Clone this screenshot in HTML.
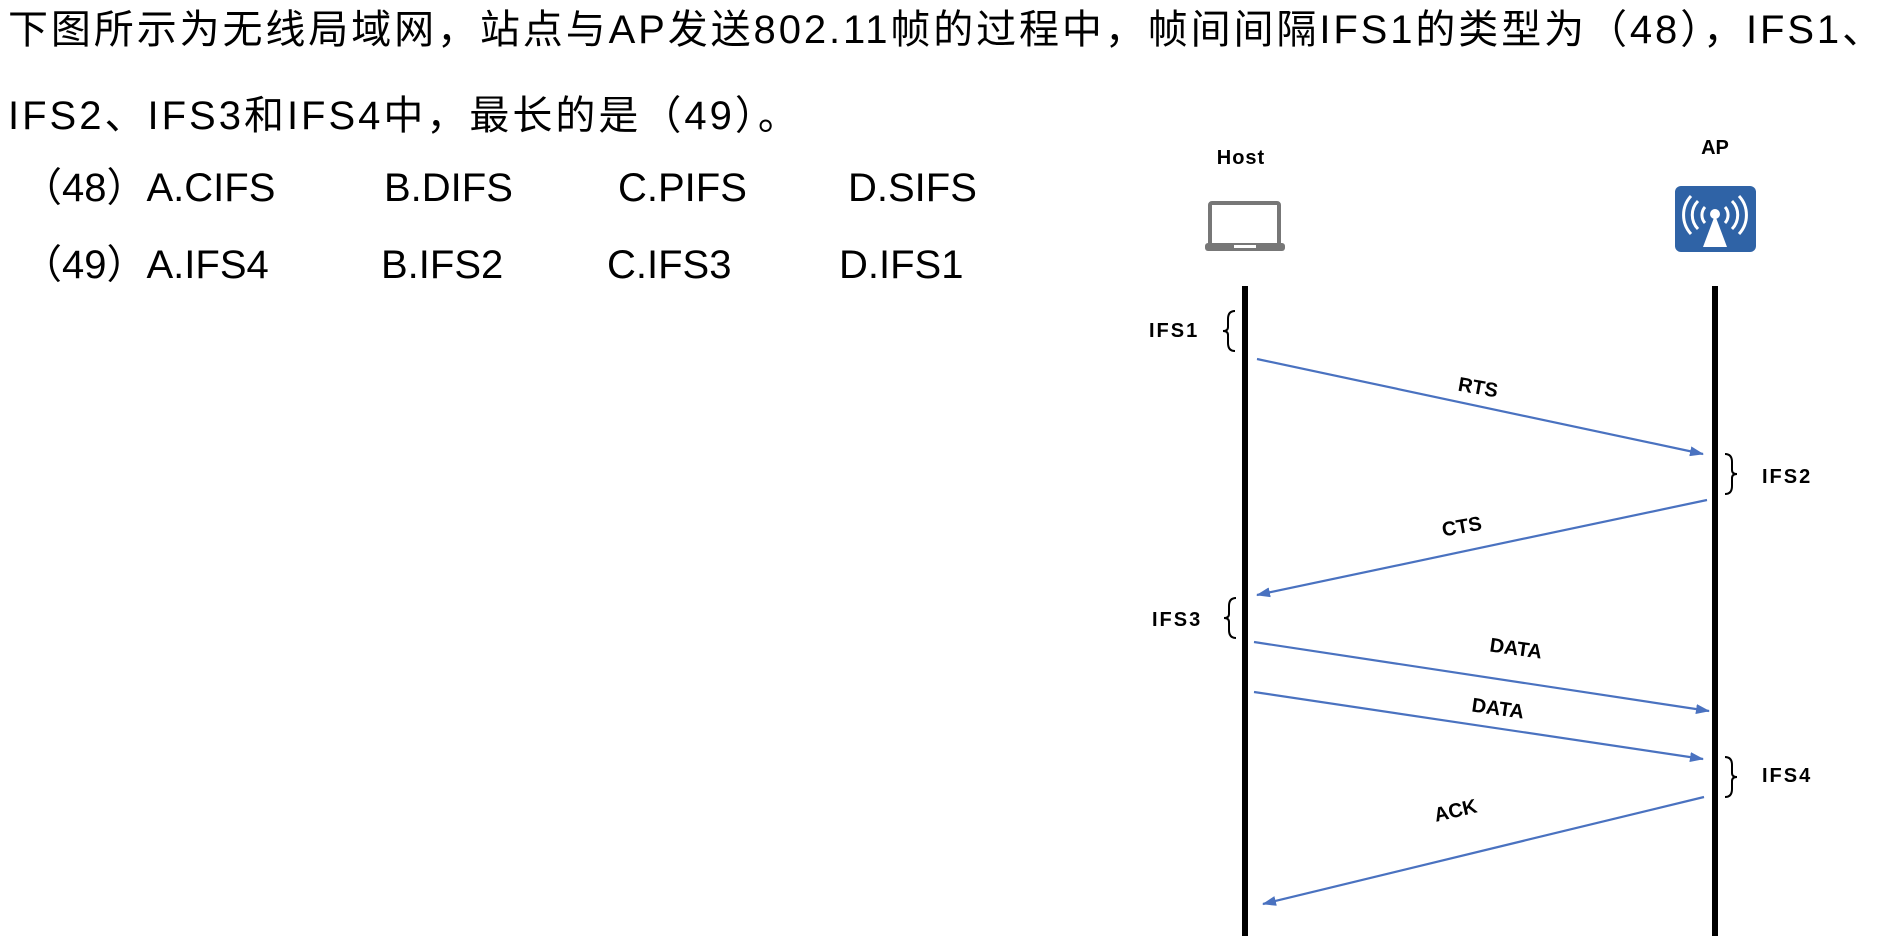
<!DOCTYPE html>
<html><head><meta charset="utf-8"><style>
body{margin:0;width:1897px;height:942px;background:#fff;overflow:hidden;position:relative;font-family:"Liberation Sans","Noto Sans CJK SC",sans-serif;color:#000}
.t{position:absolute;font-size:40px;white-space:nowrap;line-height:1}
</style></head><body>
<div class="t" style="left:8px;top:10px;letter-spacing:2.9px">下图所示为无线局域网，站点与AP发送802.11帧的过程中，帧间间隔IFS1的类型为（48），IFS1、</div>
<div class="t" style="left:8px;top:96px;letter-spacing:3px">IFS2、IFS3和IFS4中，最长的是（49）。</div>
<div class="t" style="left:22px;top:168px">（48）A.CIFS</div>
<div class="t" style="left:384px;top:168px">B.DIFS</div>
<div class="t" style="left:618px;top:168px">C.PIFS</div>
<div class="t" style="left:848px;top:168px">D.SIFS</div>
<div class="t" style="left:22px;top:245px">（49）A.IFS4</div>
<div class="t" style="left:381px;top:245px">B.IFS2</div>
<div class="t" style="left:607px;top:245px">C.IFS3</div>
<div class="t" style="left:839px;top:245px">D.IFS1</div>
<svg width="1897" height="942" style="position:absolute;left:0;top:0" font-family="Liberation Sans, sans-serif" font-weight="bold" font-size="20">
<defs><marker id="a" markerWidth="14" markerHeight="10" refX="13" refY="5" orient="auto" markerUnits="userSpaceOnUse"><path d="M0,0L14,5L0,10z" fill="#4a72c0"/></marker></defs>
<g transform="translate(-8,0)">
<text x="1249" y="164" text-anchor="middle" letter-spacing="1">Host</text>
<text x="1723" y="154" text-anchor="middle">AP</text>
<rect x="1218" y="203" width="69" height="42" rx="2" fill="none" stroke="#777" stroke-width="4"/>
<rect x="1213" y="243" width="80" height="8" rx="3" fill="#777"/>
<rect x="1242" y="245" width="22" height="3" fill="#fff"/>
<rect x="1683" y="186" width="81" height="66" rx="6" fill="#2f63a6"/>
<g fill="none" stroke="#fff" stroke-width="3">
<path d="M1713,207a12,12 0 0 0 0,16M1733,207a12,12 0 0 1 0,16M1706,201a20,20 0 0 0 0,28M1740,201a20,20 0 0 1 0,28M1699,196a28,28 0 0 0 0,38M1747,196a28,28 0 0 1 0,38"/>
</g>
<circle cx="1723" cy="214" r="5" fill="#fff"/>
<path d="M1723,215L1711,247L1735,247z" fill="#fff"/>
<line x1="1253" y1="286" x2="1253" y2="936" stroke="#000" stroke-width="6"/>
<line x1="1723" y1="286" x2="1723" y2="936" stroke="#000" stroke-width="6"/>
<g fill="none" stroke="#000" stroke-width="2">
<path d="M1243,311q-7,0 -7,8v8q0,4 -5,4q5,0 5,4v8q0,8 7,8"/>
<path d="M1244,598q-7,0 -7,8v8q0,4 -5,4q5,0 5,4v8q0,8 7,8"/>
<path d="M1733,454q7,0 7,8v8q0,4 5,4q-5,0 -5,4v8q0,8 -7,8"/>
<path d="M1733,757q7,0 7,8v8q0,4 5,4q-5,0 -5,4v8q0,8 -7,8"/>
</g>
<text x="1157" y="337" letter-spacing="2">IFS1</text>
<text x="1160" y="626" letter-spacing="2">IFS3</text>
<text x="1770" y="483" letter-spacing="2">IFS2</text>
<text x="1770" y="782" letter-spacing="2">IFS4</text>
<g stroke="#4a72c0" stroke-width="2.2" marker-end="url(#a)">
<line x1="1265" y1="359" x2="1711" y2="454"/>
<line x1="1715" y1="500" x2="1265" y2="595"/>
<line x1="1262" y1="642" x2="1717" y2="711"/>
<line x1="1262" y1="692" x2="1711" y2="759"/>
<line x1="1712" y1="797" x2="1271" y2="904"/>
</g>
<text transform="translate(1485,394) rotate(10)" text-anchor="middle">RTS</text>
<text transform="translate(1471,533) rotate(-10)" text-anchor="middle">CTS</text>
<text transform="translate(1523,655) rotate(8)" text-anchor="middle">DATA</text>
<text transform="translate(1505,715) rotate(8)" text-anchor="middle">DATA</text>
<text transform="translate(1465,817) rotate(-13)" text-anchor="middle">ACK</text>
</g>
</svg>
</body></html>
